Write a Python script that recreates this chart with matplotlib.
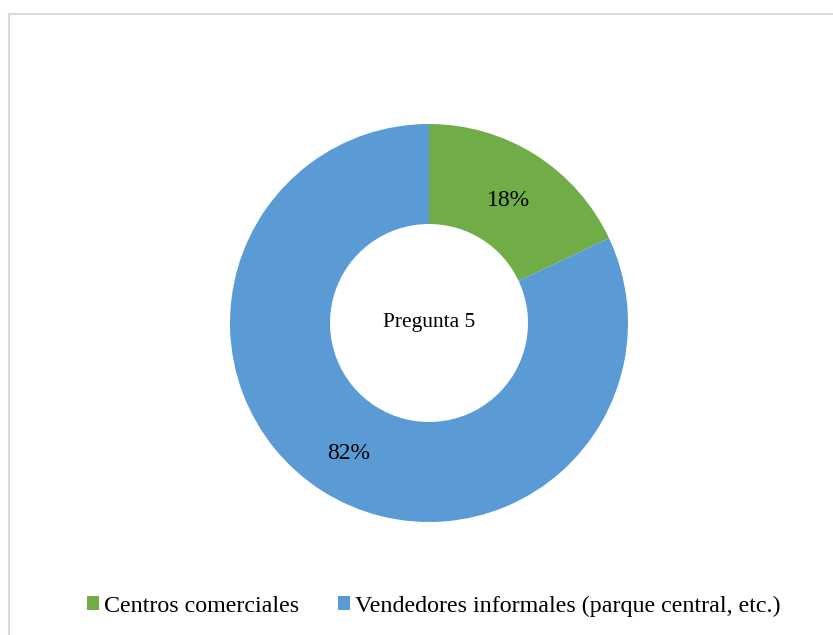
import matplotlib.pyplot as plt
from matplotlib.patches import Rectangle

plt.rcParams["font.family"] = ["Liberation Serif", "DejaVu Serif"]

labels = ["Centros comerciales", "Vendedores informales (parque central, etc.)"]
values = [18, 82]
colors = ["#70AD47", "#5B9BD5"]
center_text = "Pregunta 5"

W, H = 833, 635
fig = plt.figure(figsize=(W / 100, H / 100), dpi=100)

# light gray chart-area border (left and top edges visible)
fig.patches.append(Rectangle((9 / W, -0.05), 1.1, (H - 14) / H + 0.05, transform=fig.transFigure,
                             fill=False, edgecolor="#d9d9d9", lw=1.5))

cx, cy, half = 429, H - 323, 200
ax = fig.add_axes([(cx - half) / W, (cy - half) / H, 2 * half / W, 2 * half / H])
ax.set_xlim(-1, 1); ax.set_ylim(-1, 1); ax.set_aspect("equal"); ax.axis("off")

wedges, _, autotexts = ax.pie(values, colors=colors, startangle=90, counterclock=False,
                              radius=0.995, autopct="%d%%", pctdistance=0.75,
                              wedgeprops=dict(width=0.5, edgecolor="white", linewidth=0),
                              textprops=dict(fontsize=17, color="black"))
for t in autotexts:
    x, y = t.get_position()
    t.set_position((x, y - 0.02))
ax.set_xlim(-1, 1); ax.set_ylim(-1, 1)
ax.text(0, 0, center_text, ha="center", va="center", fontsize=15.5)

fig.legend(wedges, labels, loc="center", bbox_to_anchor=(434 / W, 1 - 606 / H), ncol=2,
           frameon=False, fontsize=17.3, handlelength=0.5, handleheight=0.5,
           handletextpad=0.22, columnspacing=1.6)

fig.savefig("out.png", dpi=100)
